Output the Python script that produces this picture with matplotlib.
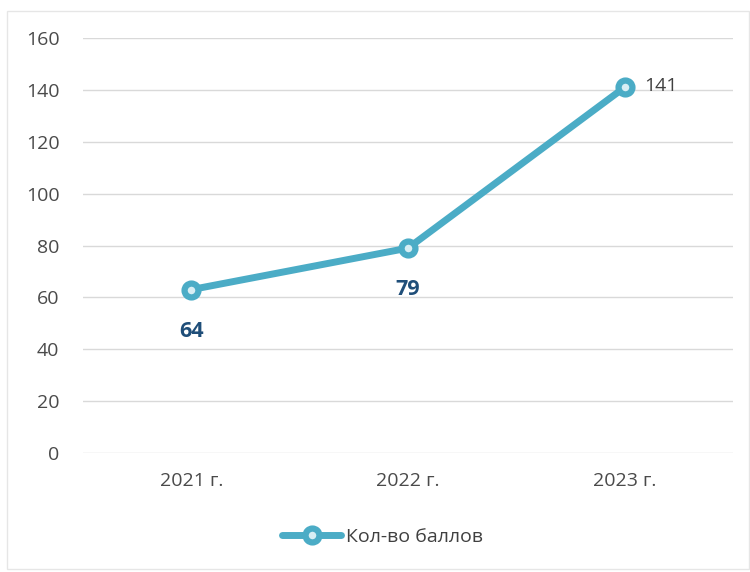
import matplotlib.pyplot as plt
from matplotlib.patches import Rectangle

years = ["2021 г.", "2022 г.", "2023 г."]
scores = [63, 79, 141]
score_labels = ["64", "79", "141"]
series_name = "Кол-во баллов"

line_color = "#4BACC6"
plt.rcParams['font.family'] = ['Open Sans', 'DejaVu Sans']

fig = plt.figure(figsize=(7.5, 5.72), dpi=100)
ax = fig.add_axes([0.1107, 0.208, 0.8667, 0.7256])

x = list(range(len(years)))
ax.plot(x, scores, color=line_color, linewidth=5, marker="o", markersize=10,
        markerfacecolor="#D8EEF4", markeredgecolor=line_color, markeredgewidth=4.5,
        label=series_name, solid_capstyle="round", zorder=3)

# data labels
ax.annotate(score_labels[0], (x[0], scores[0]), xytext=(0, -30), textcoords="offset points",
            ha="center", va="center", fontsize=15.5, fontweight="bold", color="#1F4E79")
ax.annotate(score_labels[1], (x[1], scores[1]), xytext=(0, -30), textcoords="offset points",
            ha="center", va="center", fontsize=15.5, fontweight="bold", color="#1F4E79")
ax.annotate(score_labels[2], (x[2], scores[2]), xytext=(14, 1), textcoords="offset points",
            ha="left", va="center", fontsize=14, color="#404040")

ax.set_xlim(-0.5, 2.5)
ax.set_ylim(0, 160)
ax.set_yticks(range(0, 161, 20))
ax.set_xticks(x)
ax.set_xticklabels(years)
ax.tick_params(axis="both", length=0, labelsize=14, labelcolor="#4A4A4A")
ax.tick_params(axis="x", pad=14)
ax.tick_params(axis="y", pad=17)
ax.grid(axis="y", color="#D9D9D9", linewidth=1)
ax.set_axisbelow(True)
for s in ax.spines.values():
    s.set_visible(False)

leg = fig.legend(loc="center", bbox_to_anchor=(0.51, 0.061), frameon=False,
                 fontsize=14, handlelength=3.0, handletextpad=0.25)
for t in leg.get_texts():
    t.set_color("#404040")

fig.patches.append(Rectangle((0.009, 0.005), 0.99, 0.975, transform=fig.transFigure,
                             fill=False, edgecolor="#E6E6E6", linewidth=1))

fig.savefig("out.png", dpi=100)
